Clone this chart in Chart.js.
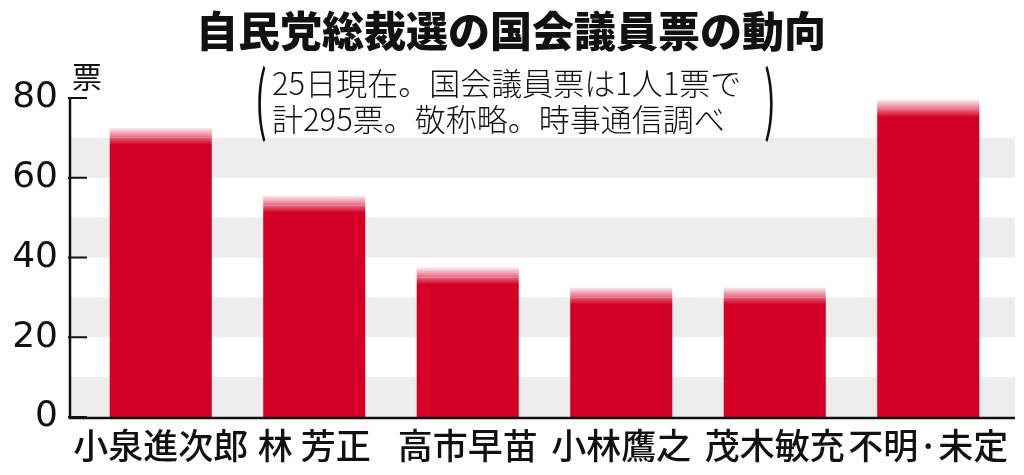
<!DOCTYPE html>
<html lang="ja">
<head>
<meta charset="utf-8">
<title>自民党総裁選の国会議員票の動向</title>
<script src="https://cdn.jsdelivr.net/npm/chart.js@4/dist/chart.umd.min.js"></script>
<style>
  html, body { margin: 0; padding: 0; background: #fff; }
  .chart-wrap { width: 1024px; height: 475px; }
</style>
</head>
<body>
<div class="chart-wrap"><canvas class="chart-votes" width="1024" height="475"></canvas></div>
<script>
// De data van de grafiek
const categories = ['小泉進次郎', '林 芳正', '高市早苗', '小林鷹之', '茂木敏充', '不明·未定'];
const votes = [70, 53, 35, 30, 30, 77];
const yMin = 0;
const yMax = 80;
const yStep = 10;
const yLabelStep = 20;

// Teksten boven de grafiek
const titleText = '自民党総裁選の国会議員票の動向';
const noteLines = ['25日現在。国会議員票は1人1票で', '計295票。敬称略。時事通信調べ'];
const unitText = '票';

const red = 'rgb(213,0,38)';
const fade = 2.5; // halve hoogte van de vervaagde bovenkant, in stemmen
const jp = '"Noto Sans CJK JP", "Noto Sans", sans-serif';

const ctx = document.querySelector('.chart-votes');

// Verloop van licht roze naar rood rond de bovenkant van een balk
function barGradient(chart, value) {
    const y = chart.scales.y;
    const top = y.getPixelForValue(value + fade);
    const bottom = y.getPixelForValue(value - fade);
    const g = chart.ctx.createLinearGradient(0, top, 0, bottom);
    g.addColorStop(0, 'rgba(213,0,38,0.08)');
    g.addColorStop(0.45, 'rgba(213,0,38,0.55)');
    g.addColorStop(0.85, red);
    g.addColorStop(1, red);
    return g;
}

// Grijze banden achter de balken
const bandsPlugin = {
    id: 'bands',
    beforeDatasetsDraw(chart) {
        const { ctx, chartArea, scales } = chart;
        ctx.save();
        ctx.fillStyle = '#ededed';
        for (let v = yMin; v < yMax; v += yLabelStep) {
            const top = scales.y.getPixelForValue(v + yStep);
            const bottom = scales.y.getPixelForValue(v);
            ctx.fillRect(chartArea.left - 14, top, chartArea.right - chartArea.left + 24, bottom - top);
        }
        ctx.restore();
    }
};

// Vervaagde kap boven elke balk, plus de assen met de streepjes naar binnen
const capsAndAxesPlugin = {
    id: 'capsAndAxes',
    afterDatasetsDraw(chart) {
        const { ctx, chartArea, scales } = chart;
        const meta = chart.getDatasetMeta(0);
        ctx.save();
        meta.data.forEach((bar, i) => {
            const v = votes[i];
            const top = scales.y.getPixelForValue(v + fade);
            const mid = scales.y.getPixelForValue(v);
            ctx.fillStyle = barGradient(chart, v);
            ctx.fillRect(bar.x - bar.width / 2, top, bar.width, mid - top);
        });

        const axisX = chartArea.left - 14;
        ctx.strokeStyle = '#111';
        ctx.lineWidth = 2.5;
        ctx.beginPath();
        ctx.moveTo(axisX, scales.y.getPixelForValue(yMax));
        ctx.lineTo(axisX, chartArea.bottom + 1);
        ctx.lineTo(chartArea.right + 10, chartArea.bottom + 1);
        ctx.stroke();

        ctx.lineWidth = 2;
        scales.y.ticks.forEach(t => {
            const y = scales.y.getPixelForValue(t.value);
            ctx.beginPath();
            ctx.moveTo(axisX - 2, y);
            ctx.lineTo(axisX + 17, y);
            ctx.stroke();
        });
        ctx.restore();
    }
};

// Titel, toelichting tussen haakjes en de eenheid
const textPlugin = {
    id: 'texts',
    afterDraw(chart) {
        const { ctx, chartArea } = chart;
        ctx.save();
        ctx.fillStyle = '#111';
        ctx.textBaseline = 'middle';

        ctx.textAlign = 'center';
        ctx.font = '900 42px ' + jp;
        ctx.fillText(titleText, 511, 31);

        ctx.textAlign = 'left';
        ctx.font = '300 31px ' + jp;
        ctx.fillText(noteLines[0], 272, 83);
        ctx.fillText(noteLines[1], 272, 119);

        // haakjes over twee regels, verticaal uitgerekt
        ctx.font = '400 32px ' + jp;
        ctx.textAlign = 'center';
        [['(', 261], [')', 770]].forEach(([p, x]) => {
            ctx.save();
            ctx.translate(x, 98);
            ctx.scale(1.1, 2.35);
            ctx.fillText(p, 0, 0);
            ctx.restore();
        });

        ctx.font = '400 30px ' + jp;
        ctx.fillText(unitText, chartArea.left + 3, 77);
        ctx.restore();
    }
};

new Chart(ctx, {
    type: 'bar',
    data: {
        labels: categories,
        datasets: [{
            label: '国会議員票',
            data: votes,
            backgroundColor: c => c.chart.chartArea ? barGradient(c.chart, c.raw) : red,
            borderWidth: 0,
            categoryPercentage: 1,
            barPercentage: 0.665
        }]
    },
    options: {
        responsive: false,
        animation: false,
        devicePixelRatio: 1,
        layout: { padding: { top: 98, left: 12, right: 19, bottom: 0 } },
        plugins: {
            legend: { display: false },
            tooltip: { enabled: false }
        },
        scales: {
            x: {
                grid: { display: false, drawTicks: false },
                border: { display: false },
                ticks: {
                    color: '#111',
                    font: { family: jp, size: 35, weight: '500' },
                    padding: 8,
                    maxRotation: 0,
                    autoSkip: false
                },
                // labels mogen tot de rand lopen, vaste hoogte onder de as
                afterFit: scale => {
                    scale.paddingLeft = 0;
                    scale.paddingRight = 0;
                    scale.height = 58;
                }
            },
            y: {
                min: yMin,
                max: yMax,
                grid: { display: false, drawTicks: false },
                border: { display: false },
                ticks: {
                    stepSize: yStep,
                    color: '#111',
                    font: { family: '"DejaVu Sans", sans-serif', size: 36 },
                    padding: 26,
                    callback: v => v % yLabelStep === 0 ? v : ''
                },
                afterFit: scale => {
                    scale.paddingTop = 0;
                    scale.paddingBottom = 0;
                    scale.width = 72;
                }
            }
        }
    },
    plugins: [bandsPlugin, capsAndAxesPlugin, textPlugin]
});
</script>
</body>
</html>
